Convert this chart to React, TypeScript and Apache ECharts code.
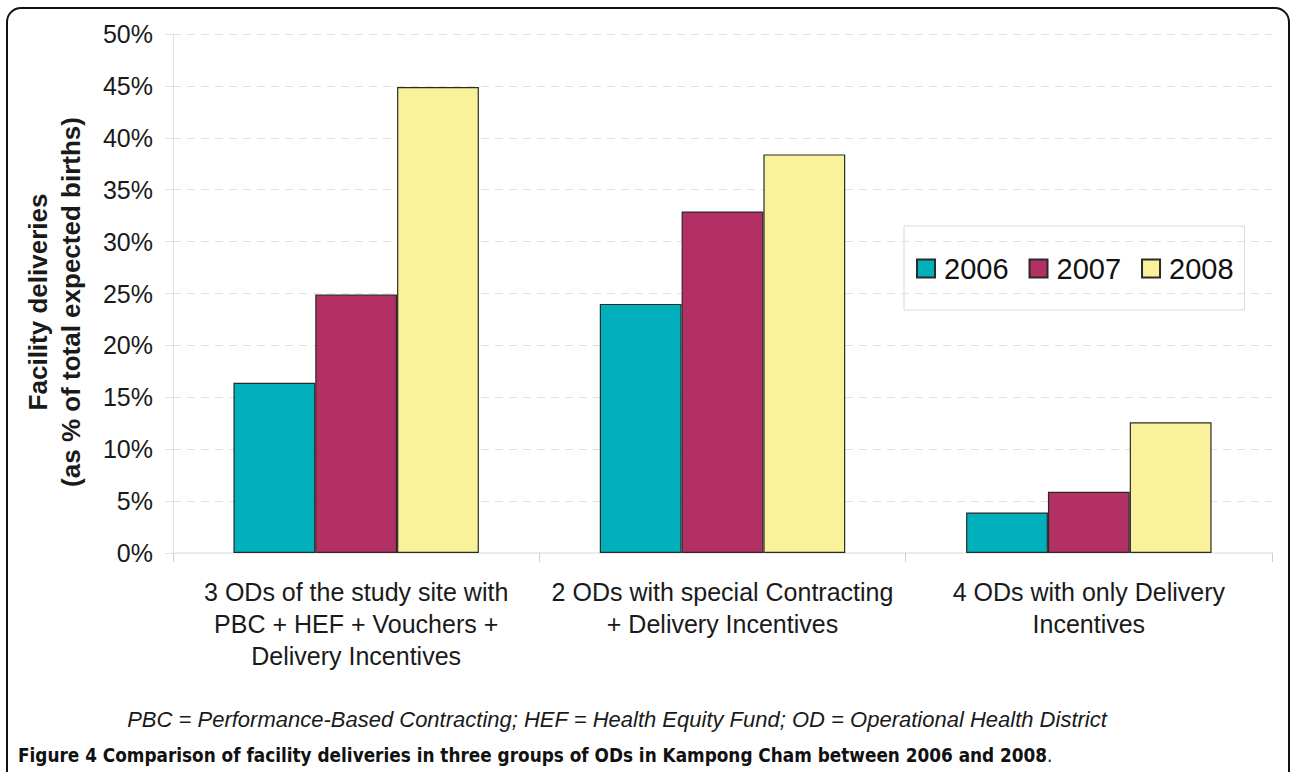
import React, { useEffect, useRef } from "react";
import * as echarts from "echarts";

const categories = [
  "3 ODs of the study site with\nPBC + HEF + Vouchers +\nDelivery Incentives",
  "2 ODs with special Contracting\n+ Delivery Incentives",
  "4 ODs with only Delivery\nIncentives",
];
const years = ["2006", "2007", "2008"];
const values2006 = [16.4, 24.0, 3.9];
const values2007 = [24.9, 32.9, 5.9];
const values2008 = [44.9, 38.4, 12.6];
const colors = ["#00B1BC", "#B23063", "#FAF29A"];
const yTicks = { min: 0, max: 50, interval: 5 };

const FONT = "'Liberation Sans', Arial, sans-serif";

export default function App() {
  const ref = useRef<HTMLDivElement>(null);
  useEffect(() => {
    document.body.style.margin = "0";
    const chart = echarts.init(ref.current!, null, { renderer: "svg" });
    const seriesData = [values2006, values2007, values2008];
    chart.setOption({
      animation: false,
      backgroundColor: "#ffffff",
      grid: { left: 173, right: 20, top: 34, bottom: 219, containLabel: false },
      legend: {
        left: 904,
        top: 226,
        data: years,
        icon: "rect",
        itemWidth: 18,
        itemHeight: 18,
        itemGap: 20,
        padding: [28, 11, 27, 12],
        borderColor: "#d9d9d9",
        borderWidth: 1,
        textStyle: { fontSize: 29, color: "#111", fontFamily: FONT, padding: [0, 0, 0, 4] },
      },
      xAxis: {
        type: "category",
        data: categories,
        axisLine: { show: true, lineStyle: { color: "#ebebeb", width: 2 } },
        axisTick: { show: true, length: 9, lineStyle: { color: "#cfcfcf" } },
        axisLabel: {
          fontSize: 25,
          lineHeight: 32,
          color: "#1a1a1a",
          margin: 23,
          fontFamily: FONT,
          interval: 0,
        },
      },
      yAxis: {
        type: "value",
        min: yTicks.min,
        max: yTicks.max,
        interval: yTicks.interval,
        axisLine: { show: true, lineStyle: { color: "#e2e2e2", width: 1 } },
        axisTick: { show: true, length: 8, lineStyle: { color: "#e2e2e2" } },
        splitLine: { show: true, lineStyle: { color: "#e2e2e2", type: [8, 6] } },
        axisLabel: {
          formatter: "{value}%",
          fontSize: 25,
          color: "#1a1a1a",
          margin: 20,
          fontFamily: FONT,
        },
      },
      series: years.map((y, i) => ({
        name: y,
        type: "bar",
        data: seriesData[i],
        barGap: "0%",
        barCategoryGap: "33%",
        itemStyle: { color: colors[i], borderColor: "#2a2a2a", borderWidth: 1.2 },
      })),
      graphic: [
        {
          type: "rect",
          shape: { x: 7, y: 8, width: 1282, height: 820, r: 14 },
          style: { fill: "none", stroke: "#111", lineWidth: 2 },
          silent: true,
        },
        {
          type: "text",
          x: 54,
          y: 302,
          rotation: Math.PI / 2,
          style: {
            text: "Facility deliveries\n(as % of total expected births)",
            fontSize: 26,
            fontWeight: "bold",
            lineHeight: 33,
            align: "center",
            verticalAlign: "middle",
            fill: "#1a1a1a",
            fontFamily: FONT,
          },
        },
        {
          type: "text",
          x: 617,
          y: 719,
          style: {
            text: "PBC = Performance-Based Contracting; HEF = Health Equity Fund; OD = Operational Health District",
            fontSize: 22,
            fontStyle: "italic",
            align: "center",
            verticalAlign: "middle",
            fill: "#1a1a1a",
            fontFamily: FONT,
          },
        },
        {
          type: "text",
          x: 18,
          y: 755,
          style: {
            text: "{b|Figure 4 Comparison of facility deliveries in three groups of ODs in Kampong Cham between 2006 and 2008}{r|.}",
            align: "left",
            verticalAlign: "middle",
            rich: {
              b: { fontSize: 18.8, fontWeight: "bold", fill: "#111", fontFamily: "'DejaVu Sans Condensed', 'DejaVu Sans'" },
              r: { fontSize: 18.8, fontWeight: "normal", fill: "#111", fontFamily: "'DejaVu Sans Condensed', 'DejaVu Sans'" },
            },
          },
        },
      ],
    });
    return () => chart.dispose();
  }, []);
  return <div ref={ref} style={{ width: 1292, height: 772, position: "absolute", left: 0, top: 0 }} />;
}
